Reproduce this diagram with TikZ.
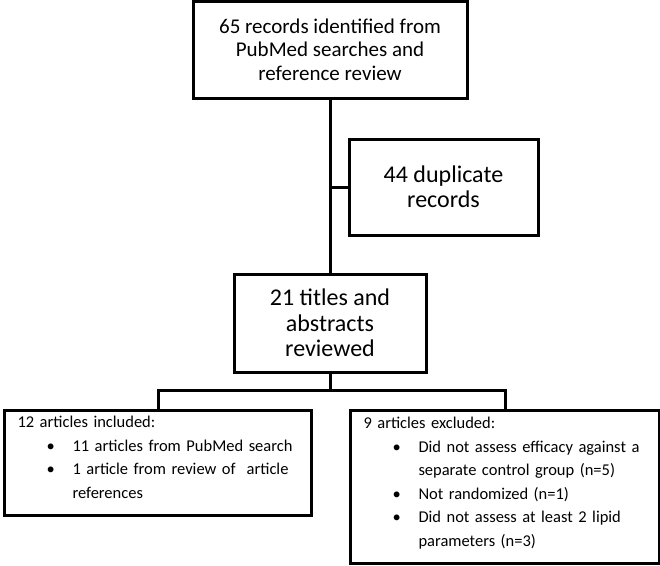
\documentclass[tikz,border=0pt]{standalone}
\usepackage{fontspec}
\setmainfont{Carlito}
\usetikzlibrary{positioning}

% bulleted list used inside the two bottom boxes
\newenvironment{pointlist}{\begin{list}{\textbullet}{%
  \setlength{\leftmargin}{55pt}\setlength{\labelwidth}{26pt}%
  \setlength{\labelsep}{0pt}\setlength{\itemsep}{0pt}%
  \setlength{\topsep}{0pt}\setlength{\partopsep}{0pt}\setlength{\parsep}{0pt}%
  \renewcommand{\makelabel}[1]{##1\hfil}}}{\end{list}}

\begin{document}
\begin{tikzpicture}[x=1pt,y=-1pt,
  flowbox/.style={draw,line width=3pt,rectangle,align=center,inner sep=0pt,
    font=\fontsize{24}{25.5}\selectfont},
  listbox/.style={draw,line width=3pt,rectangle,align=left,anchor=north west,
    inner xsep=13pt,inner ysep=0pt,font=\fontsize{16.5}{23.5}\selectfont},
  link/.style={line width=3pt}]
\useasboundingbox (0,0) rectangle (660,565);
% The three boxes of the main column
\node[flowbox,minimum width=274pt,minimum height=97pt,
  font=\fontsize{21}{23.5}\selectfont] (records) at (330,49.5)
  {65 records identified from\\PubMed searches and\\reference review};
\node[flowbox,minimum width=189pt,minimum height=96pt] (dupes) at (443.5,187)
  {44 duplicate\\records};
\node[flowbox,minimum width=192pt,minimum height=98pt] (reviewed) at (330,323)
  {21 titles and\\abstracts\\reviewed};
% Then the two lists at the bottom
\node[listbox,text width=281pt,text height=17pt,text depth=88pt] (included) at (3,409)
  {12 articles included:
   \begin{pointlist}
   \item 11 articles from PubMed search
   \item 1 article from review of~ article\newline references
   \end{pointlist}};
\node[listbox,text width=283pt,text height=18pt,text depth=135pt] (excluded) at (349,409)
  {9 articles excluded:
   \begin{pointlist}
   \item Did not assess efficacy against a\newline separate control group (n=5)
   \item Not randomized (n=1)
   \item Did not assess at least 2 lipid\newline parameters (n=3)
   \end{pointlist}};
% Connectors
\coordinate (fork) at (330,390);
\draw[link] (records) -- (reviewed);
\draw[link] (records.south |- dupes.west) -- (dupes.west);
\draw[link] (reviewed.south) -- (fork);
\draw[link] (included.north) |- (fork) -| (excluded.north);
\end{tikzpicture}
\end{document}
